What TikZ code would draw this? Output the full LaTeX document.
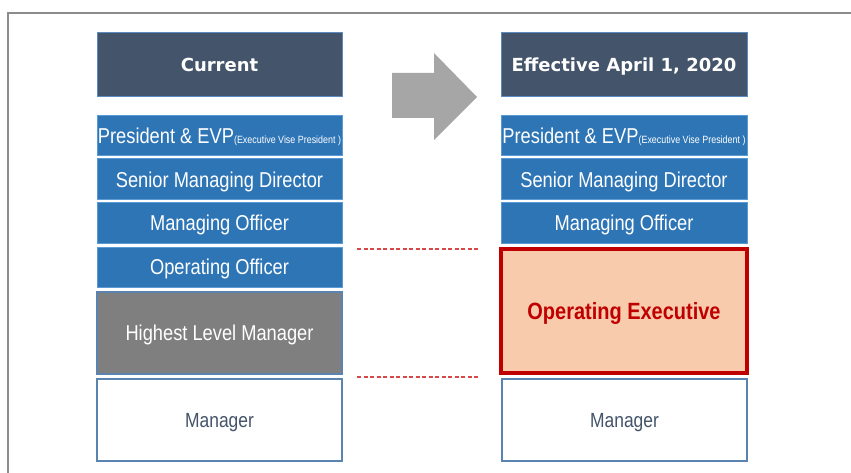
\documentclass[tikz,border=0pt]{standalone}
\usepackage{fontspec}
\setmainfont{Liberation Sans}
\newfontfamily\narrowfont[FakeStretch=0.85]{Liberation Sans}
\newfontfamily\headfont{DejaVu Sans}
\definecolor{hdfill}{HTML}{44546A}
\definecolor{hdline}{HTML}{5B8BC0}
\definecolor{bluefill}{HTML}{2E75B6}
\definecolor{blueline}{HTML}{5B9BD5}
\definecolor{grayfill}{HTML}{7F7F7F}
\definecolor{boxline}{HTML}{5A83B0}
\definecolor{peach}{HTML}{F8CBAD}
\definecolor{darkred}{HTML}{C00000}
\definecolor{dashred}{HTML}{D84848}
\definecolor{framegray}{HTML}{8C8C8C}
\definecolor{arrowgray}{HTML}{A6A6A6}
\definecolor{mgrtext}{HTML}{44546A}
\begin{document}
\begin{tikzpicture}[x=1pt,y=-1pt,
  base/.style={inner sep=0pt, outer sep=0pt, align=center, text depth=0pt},
  headbox/.style={base, fill=hdfill, draw=hdline, line width=1pt, text=white,
    font=\headfont\bfseries\fontsize{18}{21}\selectfont},
  bluebox/.style={base, fill=bluefill, draw=blueline, line width=1pt, text=white,
    font=\narrowfont\fontsize{21.5}{24}\selectfont},
  graybox/.style={base, fill=grayfill, draw=boxline, line width=1.5pt, text=white,
    font=\narrowfont\fontsize{21.5}{24}\selectfont},
  mgrbox/.style={base, fill=white, draw=boxline, line width=1.5pt, text=mgrtext,
    font=\narrowfont\fontsize{20.5}{24}\selectfont},
  execbox/.style={base, fill=peach, draw=darkred, line width=3.5pt, text=darkred,
    font=\narrowfont\bfseries\fontsize{23.5}{26}\selectfont},
  dashline/.style={draw=dashred, line width=1.2pt, dash pattern=on 4pt off 2.5pt}
]
\useasboundingbox (0,0) rectangle (851,473);
% outer frame
\draw[framegray, line width=1.5pt] (8,490) -- (8,13) -- (870,13);

% arrow
\fill[arrowgray] (392,73) -- (434,73) -- (434,53) -- (477,97) -- (434,140) -- (434,118) -- (392,118) -- cycle;

% left column
\node[headbox, minimum width=245pt, minimum height=64pt] (hL) at (219.5,65) {Current};
\node[bluebox, minimum width=245pt, minimum height=40pt] (presL) at (219.5,136)
  {President \& EVP{\fontsize{10.5}{12}\selectfont(Executive Vise President )}};
\node[bluebox, minimum width=245pt, minimum height=41pt] (smdL) at (219.5,179.5) {Senior Managing Director};
\node[bluebox, minimum width=245pt, minimum height=40pt] (moL) at (219.5,223) {Managing Officer};
\node[bluebox, minimum width=245pt, minimum height=40pt] (ooL) at (219.5,267) {Operating Officer};
\node[graybox, minimum width=245pt, minimum height=82pt] (hlmL) at (219.5,333) {Highest Level Manager};
\node[mgrbox, minimum width=245pt, minimum height=82pt] (mgrL) at (219.5,420) {Manager};

% right column
\node[headbox, minimum width=246pt, minimum height=64pt] (hR) at (624,65) {Effective April 1, 2020};
\node[bluebox, minimum width=246pt, minimum height=40pt] (presR) at (624,136)
  {President \& EVP{\fontsize{10.5}{12}\selectfont(Executive Vise President )}};
\node[bluebox, minimum width=246pt, minimum height=41pt] (smdR) at (624,179.5) {Senior Managing Director};
\node[bluebox, minimum width=246pt, minimum height=40pt] (moR) at (624,223) {Managing Officer};
\node[execbox, minimum width=246pt, minimum height=124pt] (oeR) at (624,311) {Operating Executive};
\node[mgrbox, minimum width=245pt, minimum height=82pt] (mgrR) at (624.5,420) {Manager};

% dashed guide lines
\coordinate (d1a) at (357,249);
\coordinate (d1b) at (478,249);
\coordinate (d2a) at (357,377);
\coordinate (d2b) at (478,377);
\draw[dashline] (d1a) -- (d1b);
\draw[dashline] (d2a) -- (d2b);
\end{tikzpicture}
\end{document}
